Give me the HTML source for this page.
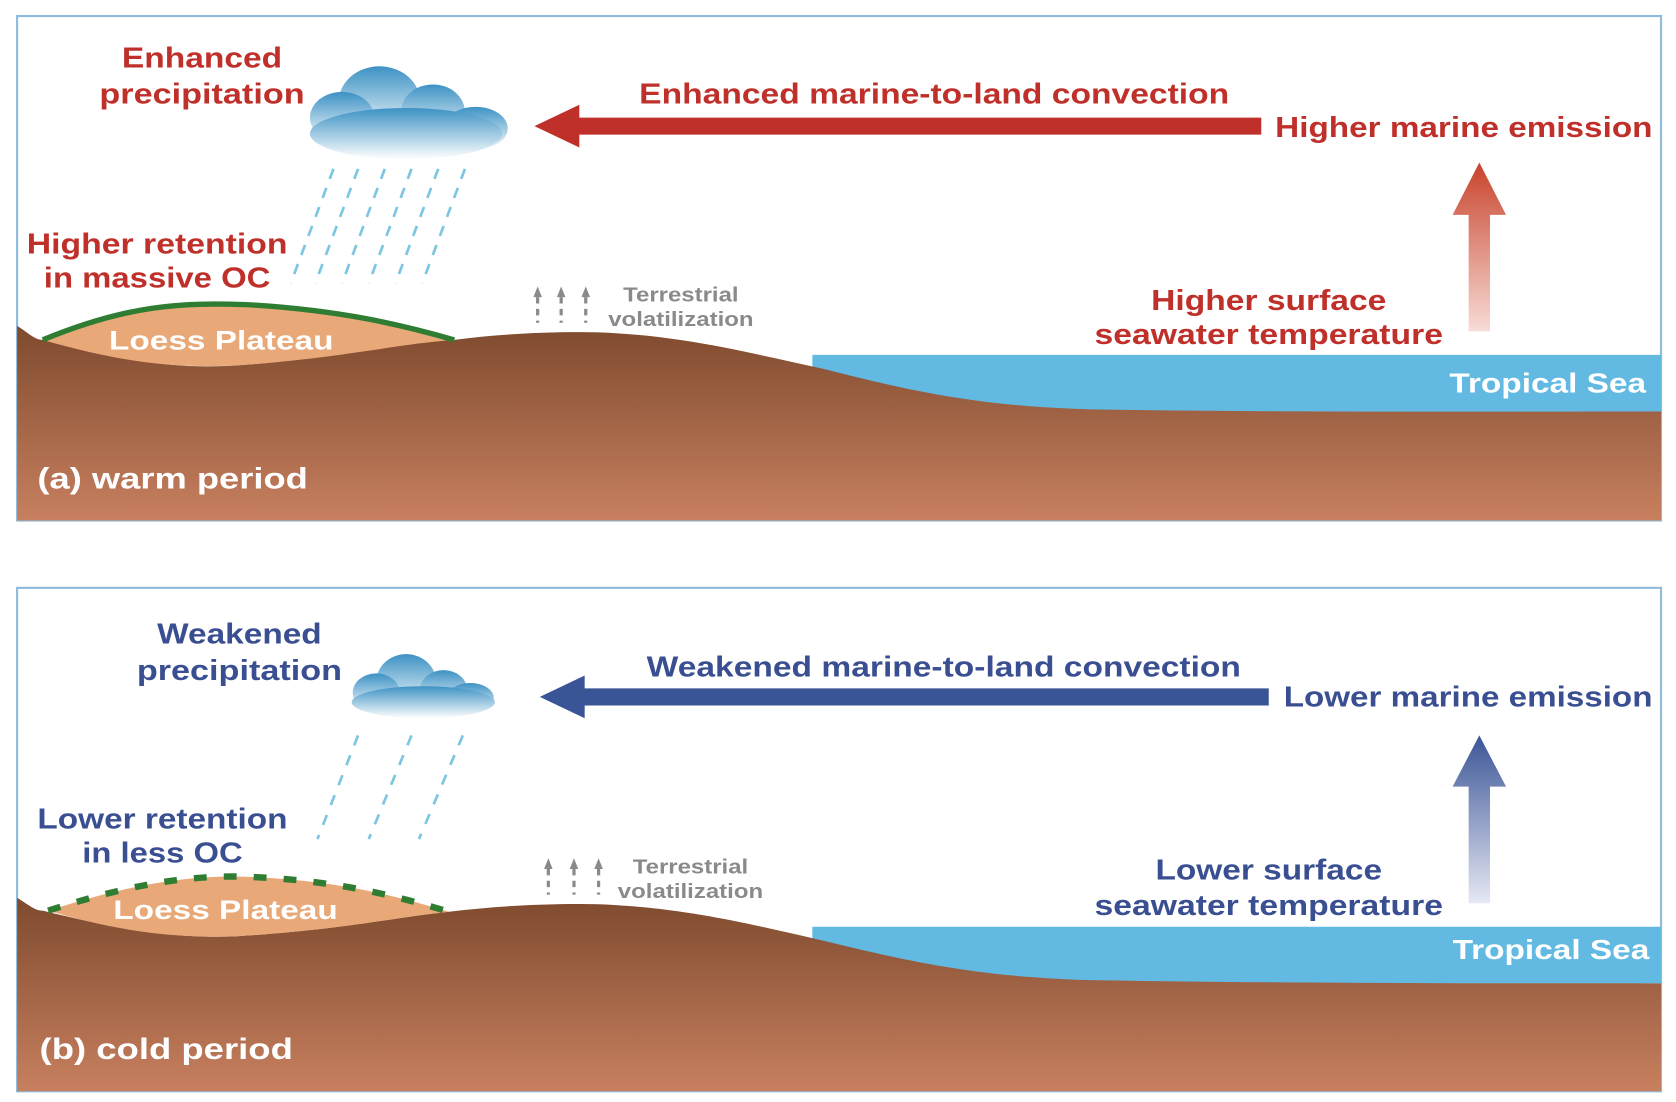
<!DOCTYPE html>
<html><head><meta charset="utf-8"><style>html,body{margin:0;padding:0;background:#fff}svg{display:block}text{font-family:"Liberation Sans",sans-serif;font-weight:bold}</style></head>
<body>
<svg width="1676" height="1102" viewBox="0 0 1568 1031" preserveAspectRatio="none" xmlns="http://www.w3.org/2000/svg">
<defs>
<linearGradient id="land" x1="0" y1="0" x2="0" y2="1"><stop offset="0" stop-color="#7f4a2e"/><stop offset="1" stop-color="#c7805f"/></linearGradient>
<linearGradient id="cloud" x1="0" y1="0" x2="0" y2="1"><stop offset="0" stop-color="#3d92c4"/><stop offset="1" stop-color="#ffffff"/></linearGradient>
<linearGradient id="ra" x1="0" y1="1" x2="0" y2="0"><stop offset="0" stop-color="#f7dcd6"/><stop offset="1" stop-color="#c8432c"/></linearGradient>
<linearGradient id="ba" x1="0" y1="1" x2="0" y2="0"><stop offset="0" stop-color="#e6e8f4"/><stop offset="1" stop-color="#3b5596"/></linearGradient>
<g id="rain" stroke="#7cc6e3" stroke-width="2.5" stroke-dasharray="10 9"></g>
</defs>

<!-- Panel a -->
<g>
<rect x="16" y="15" width="1538" height="472" fill="#fff" stroke="#8fbcdc" stroke-width="2"/>
<path d="M760 332 L1554 332 L1554 386 L760 386 Z" fill="#62b9e2"/>
<path d="M16 305 C25 310 32 318 40 318 C120 340 170 345 220 342 C320 335 370 320 425 318 C470 312 520 310 560 311 C640 314 700 330 770 345 C860 368 920 380 1020 383 C1200 386 1400 385 1554 385 L1554 487 L16 487 Z" fill="url(#land)"/>
<path d="M40 318 C120 285 170 283 230 285 C320 290 380 305 425 318 C370 322 320 335 220 342 C150 345 100 335 40 318 Z" fill="#e8a878"/>
<path d="M40 318 C120 285 170 283 230 285 C320 290 380 305 425 318" fill="none" stroke="#2f7d32" stroke-width="5"/>
<text x="207" y="327" font-size="25" fill="#fff" text-anchor="middle" textLength="210" lengthAdjust="spacingAndGlyphs">Loess Plateau</text>
<text x="35" y="457" font-size="28" fill="#fff" textLength="253" lengthAdjust="spacingAndGlyphs">(a) warm period</text>
<text x="1540" y="367" font-size="26" fill="#fff" text-anchor="end" textLength="184" lengthAdjust="spacingAndGlyphs">Tropical Sea</text>
<!-- cloud -->
<g fill="url(#cloud)">
<ellipse cx="355" cy="95" rx="38" ry="33"/><ellipse cx="320" cy="110" rx="30" ry="24"/><ellipse cx="405" cy="105" rx="30" ry="26"/><ellipse cx="445" cy="120" rx="30" ry="20"/><ellipse cx="380" cy="125" rx="90" ry="24"/>
</g>
<g stroke="#7cc6e3" stroke-width="2.5" stroke-dasharray="10 9">
<line x1="312" y1="158" x2="272" y2="265"/><line x1="335" y1="158" x2="295" y2="265"/><line x1="360" y1="158" x2="320" y2="265"/><line x1="385" y1="158" x2="345" y2="265"/><line x1="410" y1="158" x2="370" y2="265"/><line x1="435" y1="158" x2="395" y2="265"/>
</g>
<text x="189" y="63" font-size="27" fill="#c0302a" text-anchor="middle" textLength="150" lengthAdjust="spacingAndGlyphs">Enhanced</text>
<text x="189" y="97" font-size="27" fill="#c0302a" text-anchor="middle" textLength="192" lengthAdjust="spacingAndGlyphs">precipitation</text>
<text x="147" y="237" font-size="27" fill="#c0302a" text-anchor="middle" textLength="244" lengthAdjust="spacingAndGlyphs">Higher retention</text>
<text x="147" y="269" font-size="27" fill="#c0302a" text-anchor="middle" textLength="212" lengthAdjust="spacingAndGlyphs">in massive OC</text>
<path d="M500 118 L542 98 L542 110 L1180 110 L1180 126 L542 126 L542 138 Z" fill="#c0302a"/>
<text x="874" y="97" font-size="27" fill="#c0302a" text-anchor="middle" textLength="552" lengthAdjust="spacingAndGlyphs">Enhanced marine-to-land convection</text>
<text x="1193" y="128" font-size="27" fill="#c0302a" textLength="353" lengthAdjust="spacingAndGlyphs">Higher marine emission</text>
<path d="M1384 152 L1409 201 L1394 201 L1394 310 L1374 310 L1374 201 L1359 201 Z" fill="url(#ra)"/>
<text x="1187" y="290" font-size="27" fill="#c0302a" text-anchor="middle" textLength="220" lengthAdjust="spacingAndGlyphs">Higher surface</text>
<text x="1187" y="322" font-size="27" fill="#c0302a" text-anchor="middle" textLength="326" lengthAdjust="spacingAndGlyphs">seawater temperature</text>
<g stroke="#8a8a8a" stroke-width="3" stroke-dasharray="6 5"><line x1="503" y1="278" x2="503" y2="302"/><line x1="525" y1="278" x2="525" y2="302"/><line x1="548" y1="278" x2="548" y2="302"/></g>
<g fill="#8a8a8a"><path d="M499 278 L503 268 L507 278Z"/><path d="M521 278 L525 268 L529 278Z"/><path d="M544 278 L548 268 L552 278Z"/></g>
<text x="637" y="282" font-size="19" fill="#8a8a8a" text-anchor="middle" font-weight="normal" textLength="108" lengthAdjust="spacingAndGlyphs">Terrestrial</text>
<text x="637" y="305" font-size="19" fill="#8a8a8a" text-anchor="middle" textLength="136" lengthAdjust="spacingAndGlyphs">volatilization</text>
</g>

<!-- Panel b -->
<g>
<rect x="16" y="550" width="1538" height="471" fill="#fff" stroke="#8fbcdc" stroke-width="2"/>
<path d="M760 867 L1554 867 L1554 920 L760 920 Z" fill="#62b9e2"/>
<path d="M16 840 C25 845 32 852 40 852 C120 872 170 878 220 876 C320 870 370 858 420 853 C470 847 520 845 560 846 C640 849 700 864 770 880 C860 902 920 914 1020 917 C1200 920 1400 920 1554 920 L1554 1021 L16 1021 Z" fill="url(#land)"/>
<path d="M45 852 C120 828 170 820 220 820 C310 822 370 838 420 853 C370 858 320 870 220 876 C150 878 100 868 45 852 Z" fill="#e8a878"/>
<path d="M45 852 C120 828 170 820 220 820 C310 822 370 838 420 853" fill="none" stroke="#2f7d32" stroke-width="6" stroke-dasharray="12 16"/>
<text x="211" y="860" font-size="25" fill="#fff" text-anchor="middle" textLength="210" lengthAdjust="spacingAndGlyphs">Loess Plateau</text>
<text x="37" y="991" font-size="28" fill="#fff" textLength="237" lengthAdjust="spacingAndGlyphs">(b) cold period</text>
<text x="1543" y="897" font-size="26" fill="#fff" text-anchor="end" textLength="184" lengthAdjust="spacingAndGlyphs">Tropical Sea</text>
<g fill="url(#cloud)">
<ellipse cx="380" cy="638" rx="28" ry="26"/><ellipse cx="352" cy="648" rx="22" ry="18"/><ellipse cx="415" cy="645" rx="22" ry="18"/><ellipse cx="440" cy="653" rx="22" ry="14"/><ellipse cx="396" cy="657" rx="67" ry="15"/>
</g>
<g stroke="#7cc6e3" stroke-width="2.5" stroke-dasharray="10 10">
<line x1="335" y1="688" x2="297" y2="785"/><line x1="385" y1="688" x2="345" y2="785"/><line x1="433" y1="688" x2="392" y2="785"/>
</g>
<text x="224" y="602" font-size="27" fill="#3a4f92" text-anchor="middle" textLength="154" lengthAdjust="spacingAndGlyphs">Weakened</text>
<text x="224" y="636" font-size="27" fill="#3a4f92" text-anchor="middle" textLength="192" lengthAdjust="spacingAndGlyphs">precipitation</text>
<text x="152" y="775" font-size="27" fill="#3a4f92" text-anchor="middle" textLength="234" lengthAdjust="spacingAndGlyphs">Lower retention</text>
<text x="152" y="807" font-size="27" fill="#3a4f92" text-anchor="middle" textLength="150" lengthAdjust="spacingAndGlyphs">in less OC</text>
<path d="M505 652 L547 632 L547 644 L1187 644 L1187 660 L547 660 L547 672 Z" fill="#3a5596"/>
<text x="883" y="633" font-size="27" fill="#3a4f92" text-anchor="middle" textLength="556" lengthAdjust="spacingAndGlyphs">Weakened marine-to-land convection</text>
<text x="1201" y="661" font-size="27" fill="#3a4f92" textLength="345" lengthAdjust="spacingAndGlyphs">Lower marine emission</text>
<path d="M1384 688 L1409 736 L1394 736 L1394 845 L1374 845 L1374 736 L1359 736 Z" fill="url(#ba)"/>
<text x="1187" y="823" font-size="27" fill="#3a4f92" text-anchor="middle" textLength="212" lengthAdjust="spacingAndGlyphs">Lower surface</text>
<text x="1187" y="856" font-size="27" fill="#3a4f92" text-anchor="middle" textLength="326" lengthAdjust="spacingAndGlyphs">seawater temperature</text>
<g stroke="#8a8a8a" stroke-width="3" stroke-dasharray="6 5"><line x1="513" y1="813" x2="513" y2="837"/><line x1="537" y1="813" x2="537" y2="837"/><line x1="560" y1="813" x2="560" y2="837"/></g>
<g fill="#8a8a8a"><path d="M509 813 L513 803 L517 813Z"/><path d="M533 813 L537 803 L541 813Z"/><path d="M556 813 L560 803 L564 813Z"/></g>
<text x="646" y="817" font-size="19" fill="#8a8a8a" text-anchor="middle" textLength="108" lengthAdjust="spacingAndGlyphs">Terrestrial</text>
<text x="646" y="840" font-size="19" fill="#8a8a8a" text-anchor="middle" textLength="136" lengthAdjust="spacingAndGlyphs">volatilization</text>
</g>
</svg>
</body></html>
